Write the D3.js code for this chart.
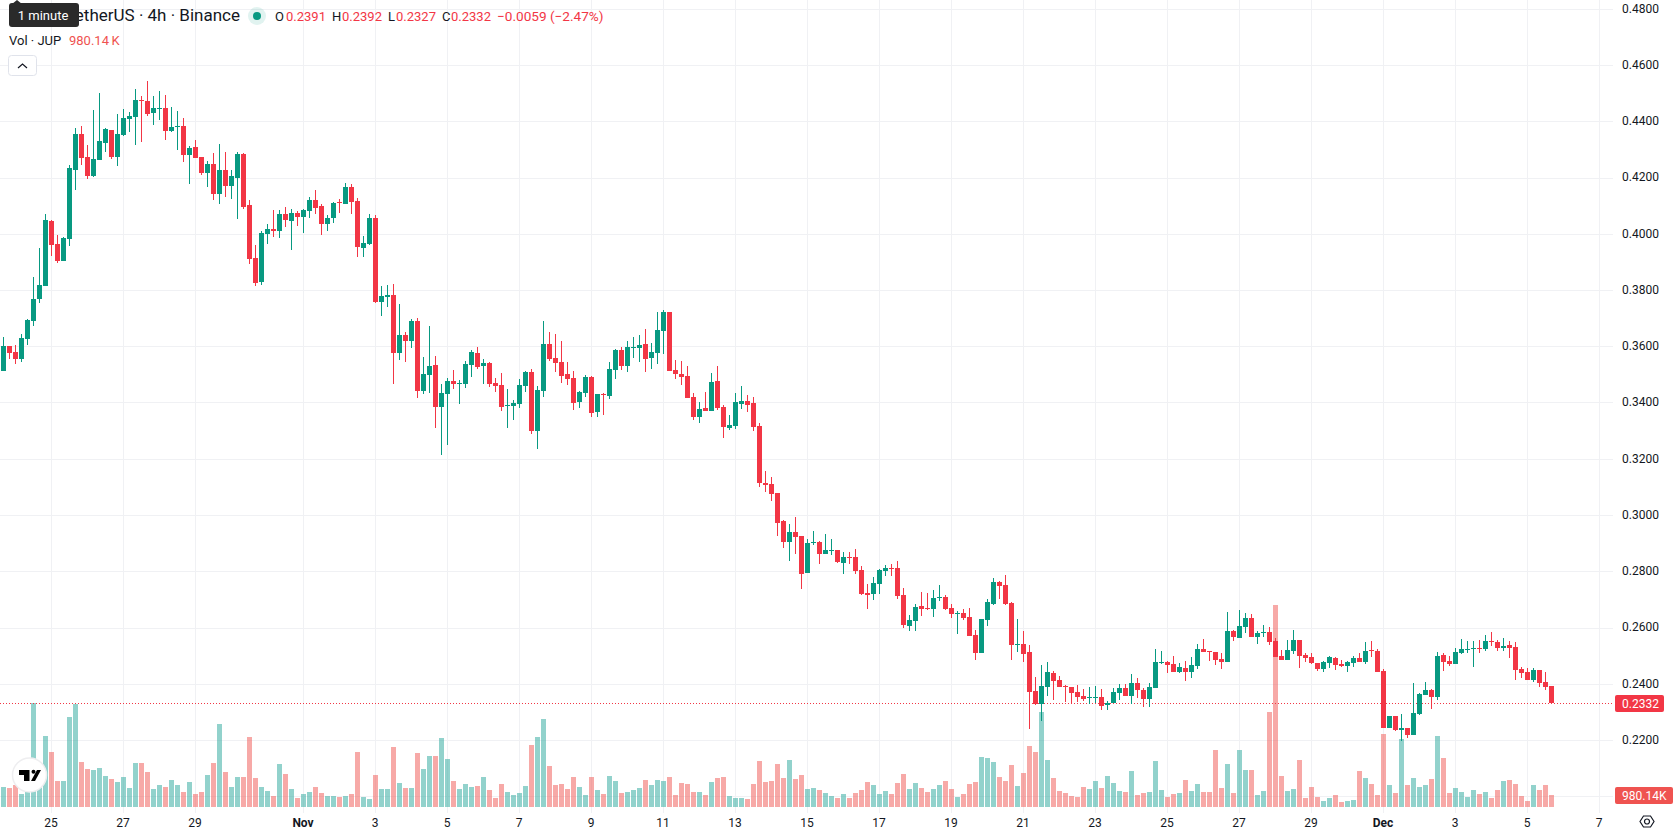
<!DOCTYPE html>
<html>
<head>
<meta charset="utf-8">
<title>JUP / USDT 4h</title>
<script src="https://cdn.jsdelivr.net/npm/d3@7"></script>
<style>
  html, body { margin: 0; padding: 0; background: #fff; overflow: hidden; }
  svg { display: block; font-family: Roboto, sans-serif; }
  text { fill: #131722; }
</style>
</head>
<body>
<svg id="chart" width="1678" height="835"></svg>
<script>
// 4h candles, prices in ten-thousandths of a USDT, volume in thousands of JUP.
const opens = [
3512,3601,3580,3555,3626,3690,3768,3814,4045,3964,
3903,3981,4227,4355,4273,4205,4262,4323,4369,4273,
4351,4408,4415,4476,4472,4429,4444,4447,4365,4380,
4383,4280,4308,4273,4216,4248,4141,4227,4170,4198,
4284,4102,3914,3828,3999,4017,4010,4070,4045,4074,
4060,4081,4120,4099,4035,4056,4113,4106,4166,4116,
3949,3964,4056,3757,3775,3782,3576,3640,3619,3690,
3441,3498,3533,3384,3430,3476,3466,3466,3533,3576,
3530,3540,3469,3462,3388,3388,3395,3459,3508,3299,
3441,3608,3558,3544,3501,3487,3402,3434,3491,3366,
3430,3423,3516,3587,3530,3594,3594,3608,3558,3576,
3654,3722,3516,3501,3494,3420,3348,3380,3370,3476,
3384,3309,3316,3395,3405,3398,3316,3114,3110,3078,
2979,2904,2940,2925,2794,2900,2904,2861,2872,2876,
2829,2851,2851,2804,2723,2719,2755,2801,2812,2812,
2716,2605,2623,2676,2669,2666,2705,2708,2669,2648,
2652,2637,2573,2509,2627,2684,2762,2751,2687,2538,
2541,2513,2374,2328,2388,2438,2413,2392,2388,2371,
2356,2349,2349,2353,2324,2332,2367,2385,2356,2403,
2378,2346,2385,2474,2477,2470,2442,2456,2442,2463,
2524,2516,2513,2488,2477,2588,2563,2602,2634,2566,
2580,2584,2552,2499,2484,2516,2556,2502,2495,2474,
2452,2474,2492,2470,2463,2474,2492,2477,2520,2516,
2445,2243,2285,2236,2243,2218,2292,2360,2378,2353,
2502,2481,2470,2509,2520,2524,2527,2524,2552,2548,
2527,2538,2531,2452,2442,2413,2449,2406,2391];

const highs = [
3633,3601,3604,3644,3697,3846,3949,4070,4049,3996,
3988,4244,4376,4383,4316,4440,4500,4376,4369,4426,
4444,4433,4515,4490,4543,4490,4508,4493,4451,4436,
4412,4312,4333,4273,4259,4287,4319,4291,4227,4291,
4287,4120,3960,4010,4035,4084,4084,4095,4088,4081,
4088,4131,4156,4106,4067,4113,4124,4180,4177,4127,
3992,4070,4067,3814,3818,3821,3750,3651,3697,3700,
3562,3672,3565,3466,3487,3516,3480,3548,3587,3597,
3555,3544,3487,3505,3448,3409,3484,3512,3519,3459,
3690,3651,3644,3619,3544,3512,3441,3498,3494,3430,
3434,3544,3590,3597,3619,3633,3640,3661,3612,3722,
3729,3722,3551,3548,3530,3434,3402,3437,3505,3530,
3391,3356,3434,3459,3427,3420,3327,3156,3135,3078,
2982,2968,2993,2925,2915,2943,2908,2932,2915,2876,
2868,2868,2879,2819,2755,2780,2808,2822,2826,2836,
2740,2644,2684,2726,2723,2733,2751,2716,2684,2659,
2666,2669,2591,2630,2701,2776,2765,2787,2691,2630,
2588,2538,2424,2467,2477,2445,2428,2396,2388,2396,
2381,2388,2392,2381,2339,2385,2399,2399,2435,2420,
2385,2403,2524,2516,2481,2499,2474,2481,2495,2541,
2559,2516,2513,2509,2655,2591,2662,2652,2648,2588,
2609,2602,2563,2520,2556,2591,2556,2509,2509,2474,
2481,2499,2495,2484,2481,2499,2509,2548,2552,2524,
2452,2285,2285,2292,2243,2403,2367,2406,2381,2513,
2509,2499,2527,2559,2552,2552,2556,2573,2584,2556,
2563,2552,2548,2460,2456,2456,2449,2442,2392];

const lows = [
3512,3555,3537,3544,3604,3672,3754,3814,3921,3896,
3903,3956,4156,4244,4195,4202,4262,4291,4266,4241,
4348,4362,4316,4326,4419,4387,4404,4333,4362,4298,
4255,4177,4269,4209,4166,4120,4106,4131,4124,4052,
4088,3892,3814,3818,3964,3988,3985,4024,3942,4028,
4003,4056,4070,3996,4010,4038,4074,4106,4070,3917,
3917,3960,3754,3708,3740,3466,3551,3544,3594,3416,
3430,3434,3309,3213,3249,3448,3395,3452,3491,3519,
3466,3455,3437,3370,3309,3338,3380,3437,3288,3235,
3420,3548,3508,3469,3462,3373,3380,3420,3348,3348,
3356,3412,3484,3516,3508,3558,3544,3508,3519,3537,
3572,3512,3484,3462,3416,3338,3327,3370,3370,3373,
3274,3302,3306,3377,3366,3299,3100,3082,3050,2925,
2883,2836,2861,2737,2794,2893,2826,2861,2858,2829,
2790,2826,2790,2716,2666,2698,2719,2783,2783,2701,
2598,2588,2588,2641,2662,2637,2694,2662,2634,2577,
2627,2570,2484,2509,2605,2680,2701,2680,2484,2513,
2477,2239,2324,2268,2356,2342,2388,2335,2328,2335,
2339,2328,2332,2307,2307,2332,2342,2356,2328,2349,
2317,2317,2385,2470,2438,2442,2438,2410,2420,2452,
2513,2481,2467,2452,2477,2552,2563,2580,2566,2541,
2566,2538,2495,2484,2484,2506,2456,2477,2470,2445,
2442,2456,2449,2460,2442,2460,2477,2470,2495,2442,
2243,2243,2232,2196,2207,2218,2289,2360,2310,2342,
2445,2463,2470,2506,2509,2460,2509,2516,2534,2516,
2516,2492,2413,2420,2413,2406,2388,2378,2327];

const closes = [
3601,3576,3555,3629,3693,3768,3818,4049,3960,3903,
3985,4234,4355,4269,4205,4266,4330,4372,4273,4355,
4412,4419,4476,4472,4426,4447,4447,4365,4380,4383,
4280,4305,4269,4216,4248,4141,4227,4170,4205,4284,
4095,3910,3825,4003,4017,4010,4070,4049,4074,4060,
4084,4120,4092,4035,4056,4109,4109,4166,4113,3953,
3967,4056,3757,3779,3782,3576,3640,3619,3690,3441,
3501,3530,3384,3434,3476,3466,3469,3537,3580,3526,
3540,3466,3459,3384,3391,3398,3462,3508,3299,3444,
3608,3555,3540,3494,3484,3398,3437,3491,3363,3430,
3427,3519,3587,3530,3597,3597,3604,3555,3580,3658,
3722,3512,3501,3491,3416,3348,3377,3370,3473,3380,
3313,3320,3402,3405,3391,3313,3114,3107,3075,2972,
2904,2940,2922,2790,2900,2904,2861,2876,2876,2833,
2851,2847,2801,2719,2716,2758,2804,2812,2808,2712,
2609,2627,2673,2666,2666,2705,2708,2666,2648,2652,
2634,2570,2509,2630,2691,2762,2748,2684,2538,2541,
2506,2371,2328,2392,2442,2410,2388,2388,2367,2353,
2346,2353,2353,2321,2332,2371,2385,2356,2403,2378,
2346,2388,2477,2477,2467,2442,2460,2442,2467,2524,
2513,2513,2484,2477,2588,2566,2605,2634,2566,2580,
2584,2548,2495,2484,2520,2556,2499,2492,2474,2452,
2477,2495,2467,2463,2477,2492,2477,2516,2516,2442,
2243,2285,2236,2243,2218,2296,2364,2378,2353,2499,
2477,2470,2513,2524,2524,2527,2524,2552,2548,2527,
2534,2527,2449,2438,2413,2449,2403,2388,2332];

const volumes = [
1634,1552,1797,1062,1225,8469,1634,5800,4493,2124,
2124,7352,8414,3676,3104,3023,3186,2532,2287,2042,
2451,1552,3594,3594,2859,1470,1797,1634,2206,1797,
1225,2042,1062,1225,2614,3594,6780,2859,1634,2451,
2451,5718,2369,1634,1307,899,3513,2696,1470,735,
1062,1225,1634,1144,899,899,817,899,1062,4493,
817,654,2614,1470,1470,4901,1961,1552,1552,4411,
3104,4166,4166,5637,3921,2124,1470,1879,1634,1715,
2451,1389,735,1879,1225,980,1144,1715,5065,5718,
7189,3349,1797,1879,1470,2451,1634,980,2451,1389,
1062,2532,2124,1144,1225,1389,1552,2206,1797,2206,
2124,2451,980,1961,1879,1225,1225,980,2042,2369,
2451,899,735,735,654,1879,3758,2042,2124,3513,
2369,3839,2287,2614,1470,1552,1389,1144,899,735,
1062,735,1144,1389,2042,1797,1062,1307,1062,1961,
2696,1470,1961,1552,1225,1470,1797,2124,1470,817,
1062,1879,2042,4085,4003,3676,2451,2124,3431,1715,
2777,4983,4493,7761,3839,2369,1307,1144,899,817,
1634,1470,2124,1552,2532,1961,1307,1225,2941,980,
1144,1225,3758,1389,817,1062,1144,2206,1307,1879,
1225,1225,4656,1552,3513,1144,4656,3023,3023,980,
1307,7761,16502,2532,1307,1470,3839,735,1634,817,
490,735,980,408,490,572,2941,2369,1879,980,
5963,1797,1144,5555,1797,2369,1634,1797,2287,5800,
4003,1144,1552,1225,817,1389,1062,1225,735,1389,
2124,2206,1879,899,490,1797,1389,1797,980.14];

// Gridlines every 0.02; the 0.2000 label is hidden behind the volume tag.
const priceGrid = [0.48,0.46,0.44,0.42,0.40,0.38,0.36,0.34,0.32,0.30,0.28,0.26,0.24,0.22,0.20];
const priceLabels = [0.48,0.46,0.44,0.42,0.40,0.38,0.36,0.34,0.32,0.30,0.28,0.26,0.24,0.22];

// Candle index of each time-axis label.
const timeTickIndex = [8,20,32,50,62,74,86,98,110,122,134,146,158,170,182,194,206,218,230,242,254,266];
const timeTickLabels = ["25","27","29","Nov","3","5","7","9","11","13","15","17","19","21","23","25","27","29","Dec","3","5","7"];
const boldTimeLabels = ["Nov","Dec"];

const lastPrice = 0.2332;
const lastVolumeLabel = "980.14K";

const GREEN = "#089981", RED = "#F23645";
const VOL_GREEN = "#26A69A", VOL_RED = "#EF5350";
const GRID = "#f0f1f4";

const PANE_R = 1613, PANE_B = 813;
const svg = d3.select("#chart");

const x = d3.scaleLinear().domain([0, 258]).range([3.5, 1551.5]);
const y = d3.scaleLinear().domain([0.22, 0.46]).range([740, 65]);
const yVol = d3.scaleLinear().domain([0, 16502]).range([807, 605]);

const candles = opens.map((o, i) => ({
  i, o: o / 1e4, h: highs[i] / 1e4, l: lows[i] / 1e4, c: closes[i] / 1e4, v: volumes[i],
  up: closes[i] >= o
}));

// Grid
const grid = svg.append("g").attr("shape-rendering", "crispEdges");
grid.selectAll("line.h").data(priceGrid).join("line").attr("class", "h")
  .attr("x1", 0).attr("x2", PANE_R)
  .attr("y1", d => Math.round(y(d)) + 0.5).attr("y2", d => Math.round(y(d)) + 0.5)
  .attr("stroke", GRID);
grid.selectAll("line.v").data(timeTickIndex).join("line").attr("class", "v")
  .attr("y1", 0).attr("y2", PANE_B)
  .attr("x1", d => x(d)).attr("x2", d => x(d))
  .attr("stroke", GRID);

// Volume histogram, behind the candles
svg.append("g").attr("shape-rendering", "crispEdges")
  .selectAll("rect").data(candles).join("rect")
  .attr("x", d => x(d.i) - 2.5).attr("width", 5)
  .attr("y", d => Math.round(yVol(d.v)))
  .attr("height", d => 807 - Math.round(yVol(d.v)))
  .attr("fill", d => d.up ? VOL_GREEN : VOL_RED)
  .attr("fill-opacity", 0.5);

// Last-price line
svg.append("line")
  .attr("x1", 0).attr("x2", PANE_R)
  .attr("y1", Math.round(y(lastPrice)) + 0.5).attr("y2", Math.round(y(lastPrice)) + 0.5)
  .attr("stroke", RED).attr("stroke-dasharray", "1 2");

// Candles
const cg = svg.append("g").attr("shape-rendering", "crispEdges");
cg.selectAll("rect.wick").data(candles).join("rect").attr("class", "wick")
  .attr("x", d => x(d.i) - 0.5).attr("width", 1)
  .attr("y", d => Math.round(y(d.h)))
  .attr("height", d => Math.max(1, Math.round(y(d.l)) - Math.round(y(d.h))))
  .attr("fill", d => d.up ? GREEN : RED);
cg.selectAll("rect.body").data(candles).join("rect").attr("class", "body")
  .attr("x", d => x(d.i) - 2.5).attr("width", 5)
  .attr("y", d => Math.round(y(Math.max(d.o, d.c))))
  .attr("height", d => Math.max(1, Math.round(y(Math.min(d.o, d.c))) - Math.round(y(Math.max(d.o, d.c)))))
  .attr("fill", d => d.up ? GREEN : RED);

// Price axis
const priceAxis = d3.axisRight(y).tickValues(priceLabels).tickSize(0).tickPadding(0)
  .tickFormat(d3.format(".4f"));
const pa = svg.append("g").attr("transform", "translate(1622,-0.5)").call(priceAxis);
pa.select(".domain").remove();
pa.selectAll("text").attr("font-size", 12).attr("font-family", "Roboto, sans-serif").style("fill", "#131722");

// Time axis
const labelOf = new Map(timeTickIndex.map((t, i) => [t, timeTickLabels[i]]));
const timeAxis = d3.axisBottom(x).tickValues(timeTickIndex).tickSize(0).tickPadding(0)
  .tickFormat(d => labelOf.get(d));
const ta = svg.append("g").attr("transform", "translate(-1,818)").call(timeAxis);
ta.select(".domain").remove();
ta.selectAll("text")
  .attr("font-size", 12).attr("font-family", "Roboto, sans-serif")
  .attr("font-weight", d => boldTimeLabels.includes(labelOf.get(d)) ? 700 : 400)
  .style("fill", "#131722");

// Axis tags
function tag(xp, yp, w, h, fill, label) {
  svg.append("rect").attr("x", xp).attr("y", yp).attr("width", w).attr("height", h)
    .attr("rx", 2).attr("fill", fill);
  svg.append("text").attr("x", xp + 7).attr("y", yp + h / 2 + 4.2)
    .attr("font-size", 12).style("fill", "#fff").text(label);
}
tag(1615, 695, 49, 17, RED, d3.format(".4f")(lastPrice));
tag(1615, 787, 58, 17, VOL_RED, lastVolumeLabel);

// Settings glyph
const gear = svg.append("g").attr("transform", "translate(1647,821.5)")
  .attr("fill", "none").attr("stroke", "#131722").attr("stroke-width", 1.2);
gear.append("path").attr("d", "M-7 0L-3.5 -5.5H3.5L7 0L3.5 5.5H-3.5Z");
gear.append("circle").attr("r", 2.5);

// Legend
const legend = svg.append("g");
legend.append("text").attr("x", 240).attr("y", 21).attr("text-anchor", "end")
  .attr("font-size", 17).text("TetherUS · 4h · Binance");

legend.append("circle").attr("cx", 257).attr("cy", 16).attr("r", 9).attr("fill", GREEN).attr("fill-opacity", 0.12);
legend.append("circle").attr("cx", 257).attr("cy", 16).attr("r", 4).attr("fill", GREEN);

const ohlcNames = ["O", "H", "L", "C"];
const ohlcValues = ["0.2391", "0.2392", "0.2327", "0.2332"];
const ohlcNameX = [275, 332, 388, 442];
const ohlcValueX = [286, 342, 396, 451];
ohlcNames.forEach((n, i) => {
  legend.append("text").attr("x", ohlcNameX[i]).attr("y", 21).attr("font-size", 13).text(n);
  legend.append("text").attr("x", ohlcValueX[i]).attr("y", 21).attr("font-size", 13)
    .style("fill", RED).text(ohlcValues[i]);
});
legend.append("text").attr("x", 497).attr("y", 21).attr("font-size", 13.6)
  .style("fill", RED).text("−0.0059 (−2.47%)");

legend.append("text").attr("x", 9).attr("y", 45).attr("font-size", 13).text("Vol · JUP");
legend.append("text").attr("x", 69).attr("y", 45).attr("font-size", 13)
  .style("fill", VOL_RED).text("980.14\u2009K");

// Collapse button
legend.append("rect").attr("x", 8.5).attr("y", 55.5).attr("width", 28).attr("height", 20).attr("rx", 3)
  .attr("fill", "#fff").attr("stroke", "#e0e3eb");
legend.append("path").attr("d", "M18 68L22.5 64L27 68").attr("fill", "none").attr("stroke", "#131722").attr("stroke-width", 1.2);

// Tooltip over the symbol name
const tip = svg.append("g");
tip.append("path").attr("d", "M12 4L17 0L22 4Z").attr("fill", "#2a2a2a");
tip.append("rect").attr("x", 9).attr("y", 3).attr("width", 70).attr("height", 24).attr("rx", 3).attr("fill", "#2a2a2a");
tip.append("text").attr("x", 43).attr("y", 20).attr("text-anchor", "middle").attr("font-size", 13)
  .style("fill", "#fff").text("1 minute");

// Attribution badge
const badge = svg.append("g").attr("transform", "translate(29.5,775)");
badge.append("circle").attr("r", 17).attr("fill", "#fff").attr("stroke", "#eeeef0").attr("stroke-width", 1.5);
badge.append("path").attr("fill", "#000").attr("d", "M-10.5 -5H0V6H-5.5V0H-10.5Z");
badge.append("circle").attr("cx", 4).attr("cy", -3.3).attr("r", 2).attr("fill", "#000");
badge.append("path").attr("fill", "#000").attr("d", "M7.5 -5H11.5L5.5 6H1.5Z");
</script>
</body>
</html>
